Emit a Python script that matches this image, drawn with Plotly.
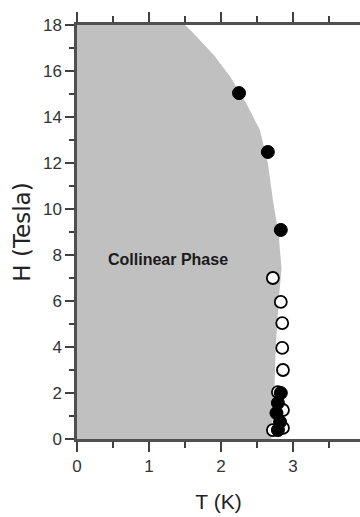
import plotly.graph_objects as go

# Phase boundary (T in K, H in Tesla)
boundary_T = [1.50, 1.60, 1.72, 1.90, 2.13, 2.35, 2.54, 2.65, 2.72, 2.80, 2.84, 2.80, 2.76, 2.74, 2.70]
boundary_H = [18.0, 17.7, 17.3, 16.7, 15.74, 14.6, 13.43, 12.0, 10.4, 8.9, 7.4, 6.0, 4.0, 2.0, 0.0]

# Filled (black) data points
filled_T = [2.25, 2.65, 2.83, 2.83, 2.79, 2.77, 2.82, 2.79]
filled_H = [15.04, 12.48, 9.09, 2.0, 1.57, 1.13, 0.74, 0.39]

# Open data points
open_T = [2.72, 2.83, 2.85, 2.85, 2.86, 2.79, 2.86, 2.72, 2.86]
open_H = [7.0, 5.96, 5.04, 3.96, 3.0, 2.04, 1.26, 0.39, 0.48]

phase_label = "Collinear Phase"
label_T, label_H = 1.26, 7.8

x_ticks = [0, 1, 2, 3, 4]
y_ticks = [0, 2, 4, 6, 8, 10, 12, 14, 16, 18]

FONT = "Liberation Sans, Arial"

fig = go.Figure()

poly_T = [0] + boundary_T + [0]
poly_H = [18] + boundary_H + [0]
fig.add_trace(go.Scatter(x=poly_T, y=poly_H, mode="lines", fill="toself",
                         fillcolor="#c0c0c0", line=dict(width=0, color="#c0c0c0"),
                         hoverinfo="skip", showlegend=False))

fig.add_trace(go.Scatter(x=open_T, y=open_H, mode="markers",
                         marker=dict(symbol="circle", size=12, color="white",
                                     line=dict(color="black", width=1.8)),
                         showlegend=False))
fig.add_trace(go.Scatter(x=filled_T, y=filled_H, mode="markers",
                         marker=dict(symbol="circle", size=13, color="black",
                                     line=dict(color="black", width=1)),
                         showlegend=False))

fig.add_annotation(x=label_T, y=label_H, text="<b>" + phase_label + "</b>", showarrow=False,
                   font=dict(family=FONT, size=16, color="#1a1a1a"))

fig.update_layout(
    width=360, height=517,
    margin=dict(l=77, r=0, t=25, b=78),
    paper_bgcolor="white", plot_bgcolor="white",
    showlegend=False,
    xaxis=dict(range=[0, 3.93], tickvals=x_ticks, ticktext=[str(v) for v in x_ticks],
               showgrid=False, zeroline=False, showline=True, linecolor="#505050", linewidth=2.5,
               mirror="ticks", ticks="outside", ticklen=10, tickwidth=1.5, tickcolor="#404040",
               minor=dict(dtick=0.5, tick0=0, ticks="outside", ticklen=6, tickwidth=1.5, tickcolor="#404040"),
               tickfont=dict(family=FONT, size=17, color="#333"),
               title=dict(text="T (K)", font=dict(family=FONT, size=21, color="#222"), standoff=20)),
    yaxis=dict(range=[0, 18], tickvals=y_ticks, ticktext=[str(v) for v in y_ticks],
               showgrid=False, zeroline=False, showline=True, linecolor="#505050", linewidth=2.5,
               ticks="outside", ticklen=9, tickwidth=1.5, tickcolor="#404040",
               minor=dict(dtick=1, tick0=0, ticks="outside", ticklen=5, tickwidth=1.5, tickcolor="#404040"),
               tickfont=dict(family=FONT, size=17, color="#333"),
               title=dict(text="H (Tesla)", font=dict(family="DejaVu Sans", size=23, color="#222"), standoff=6)),
)

fig.write_html("out.html")
